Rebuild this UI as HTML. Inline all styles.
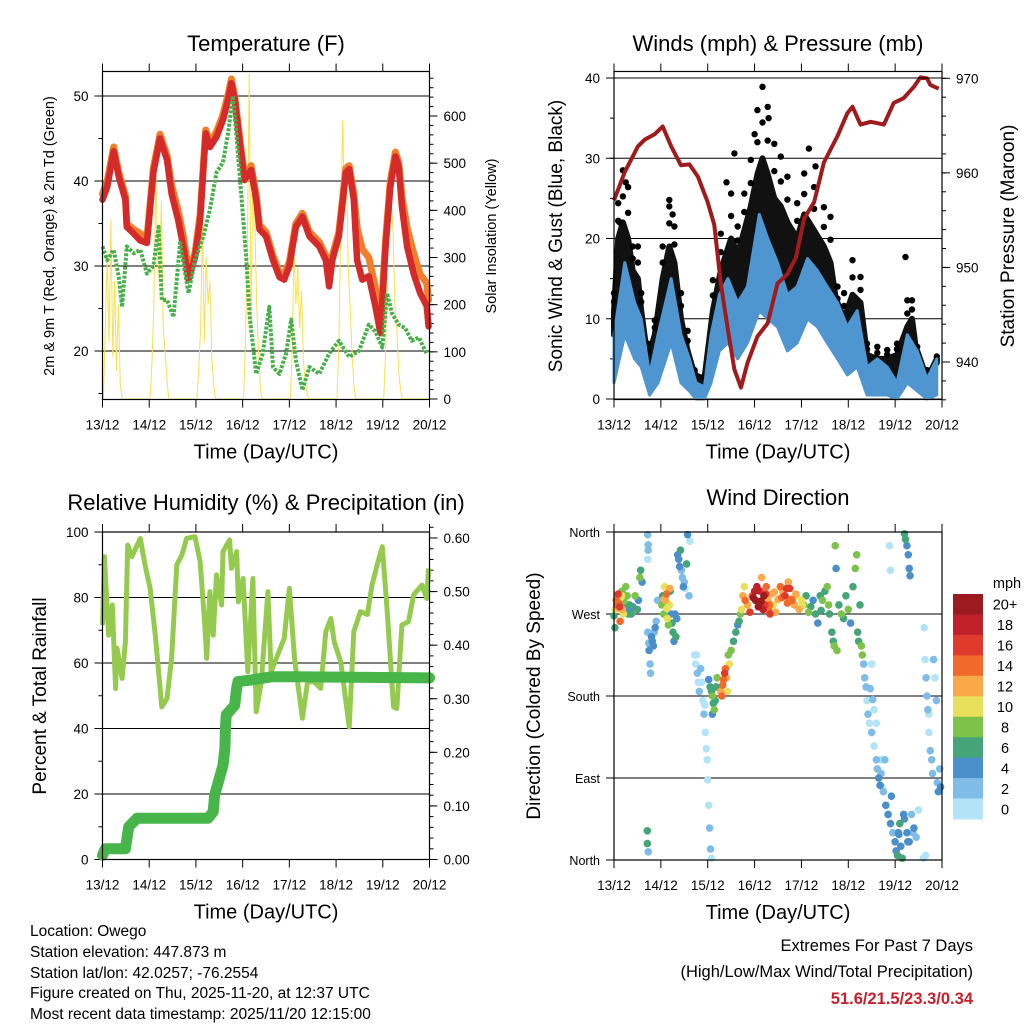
<!DOCTYPE html>
<html><head><meta charset="utf-8">
<style>
html,body{margin:0;padding:0;background:#fff;}
svg{display:block;font-family:"Liberation Sans",Arial,sans-serif;}
</style></head>
<body>
<svg id="chart" width="1024" height="1024" viewBox="0 0 1024 1024" xmlns="http://www.w3.org/2000/svg">
<rect width="1024" height="1024" fill="#fff"/>
<g id="p1"></g>
<g id="p2"></g>
<g id="p3"></g>
<g id="p4"></g>
<g id="texts">
<text x="266" y="51" font-size="22" text-anchor="middle">Temperature (F)</text>
<text x="778" y="51" font-size="22" text-anchor="middle">Winds (mph) &amp; Pressure (mb)</text>
<text x="266" y="510" font-size="22" text-anchor="middle">Relative Humidity (%) &amp; Precipitation (in)</text>
<text x="778" y="505" font-size="22" text-anchor="middle">Wind Direction</text>
<text x="30" y="936" font-size="15.5">Location: Owego</text>
<text x="30" y="957" font-size="15.5">Station elevation: 447.873 m</text>
<text x="30" y="978" font-size="15.5">Station lat/lon: 42.0257; -76.2554</text>
<text x="30" y="998" font-size="15.5">Figure created on Thu, 2025-11-20, at 12:37 UTC</text>
<text x="30" y="1019" font-size="15.5">Most recent data timestamp: 2025/11/20 12:15:00</text>
<text x="973" y="951" font-size="16.5" text-anchor="end">Extremes For Past 7 Days</text>
<text x="973" y="977" font-size="16.5" text-anchor="end">(High/Low/Max Wind/Total Precipitation)</text>
<text x="973" y="1004" font-size="16.5" font-weight="bold" fill="#c8202a" text-anchor="end">51.6/21.5/23.3/0.34</text>
</g>
</svg>
<script>
// ---------- DATA ----------
const dayLabels = ["13/12","14/12","15/12","16/12","17/12","18/12","19/12","20/12"];
const tempT = [0,0.10,0.24,0.35,0.49,0.52,0.67,0.81,0.95,1.09,1.23,1.38,1.48,1.62,1.73,1.84,1.98,2.09,2.21,2.30,2.44,2.58,2.69,2.76,2.83,2.94,3.04,3.18,3.29,3.36,3.50,3.65,3.79,3.89,4.00,4.14,4.28,4.43,4.64,4.78,4.85,4.92,5.06,5.21,5.28,5.38,5.45,5.56,5.70,5.84,5.95,6.06,6.16,6.27,6.34,6.41,6.52,6.66,6.80,6.94,6.98];
const temp2m = [37.8,39.3,43.5,40.5,37.8,34.6,33.8,33,32.7,41,45,42.5,38.5,35.4,32.3,28.4,31,35.4,45.6,44,45.2,47.2,49.6,51.5,49.6,44.5,40.1,41.3,37.8,34.3,33.5,30.7,28.7,28.4,30,34.6,35.8,33.5,32.3,30.7,27.6,30.7,33.5,41,41.4,37.8,30.7,28.4,28.8,25.3,22.1,32.3,39.3,42.9,41.7,37,32.3,29.1,26.8,25.3,22.9];
const temp9m = [38.5,40,44,41,38.3,35,34.3,33.8,33.2,41.5,45.5,43,39.5,36.5,33.5,29.5,31.5,36,46,44.5,45.8,47.8,50.2,52,50,45,40.6,41.8,38.3,34.8,34,31.2,29.2,29,30.5,35,36.2,34,32.8,31.2,28.2,31.2,34,41.5,41.8,38.5,34.5,32,31,27.5,23,33,40,43.4,42.2,38.2,34.5,31.5,29,28,26];
const dewT = [0,0.10,0.24,0.35,0.42,0.52,0.67,0.81,0.95,1.09,1.20,1.27,1.38,1.52,1.66,1.84,1.98,2.16,2.30,2.44,2.58,2.69,2.79,2.87,2.97,3.08,3.15,3.29,3.43,3.57,3.65,3.79,3.93,4.04,4.14,4.28,4.43,4.64,4.85,5.06,5.28,5.49,5.70,5.84,5.99,6.09,6.20,6.34,6.48,6.62,6.77,6.94];
const dewVals = [32.3,30.7,31.9,28.7,25.2,32.3,31.5,31.9,29.1,30,34.6,26,26,24,32.7,26.8,30.7,33.5,36.6,41,42.2,45.7,50,45.2,38.5,30.7,24,17.3,19.7,25.2,18.1,17.3,19.7,23.7,18.9,15.4,18.1,17.3,19.7,21.2,19.3,20,23.1,22.3,20.4,26.8,24.4,23.1,22.7,21.2,21.6,19.7];
const solarT = [0,0.02,0.06,0.10,0.14,0.18,0.22,0.26,0.30,0.34,0.38,0.42,0.5, 1,1.02,1.06,1.10,1.14,1.18,1.22,1.26,1.30,1.34,1.38,1.42,1.5, 2,2.02,2.06,2.10,2.14,2.18,2.22,2.26,2.30,2.34,2.38,2.42,2.5, 3,3.02,3.06,3.10,3.14,3.18,3.22,3.26,3.30,3.34,3.38,3.42,3.5, 4,4.02,4.06,4.10,4.14,4.18,4.22,4.26,4.30,4.34,4.38,4.42,4.5, 5,5.02,5.06,5.10,5.14,5.18,5.22,5.26,5.30,5.34,5.38,5.42,5.5, 6,6.02,6.06,6.10,6.14,6.18,6.22,6.26,6.30,6.34,6.38,6.42,6.5, 7];
const solarVals = [0,0,150,300,120,380,90,250,60,200,30,0,0, 0,0,80,200,480,300,250,420,150,100,40,0,0, 0,0,60,150,380,120,300,200,250,90,30,0,0, 0,0,120,300,690,150,500,380,200,100,20,0,0, 0,0,100,320,200,280,150,230,80,40,10,0,0, 0,0,120,350,590,400,500,280,200,100,30,0,0, 0,0,100,300,480,420,350,200,150,60,20,0,0, 0];
const presT = [0,0.23,0.51,0.65,0.87,1.04,1.22,1.43,1.61,1.79,2.0,2.14,2.28,2.43,2.57,2.71,2.85,3.06,3.28,3.49,3.70,3.88,4.06,4.27,4.48,4.77,4.98,5.09,5.26,5.48,5.76,5.97,6.18,6.40,6.54,6.68,6.75,6.93];
const presVals = [957.1,960.1,962.8,963.5,964.1,964.9,962.8,960.8,960.9,959.6,956.9,954.5,948.3,943.4,939.2,937.3,939.9,942.7,944.1,948.3,949.3,951.0,955.2,956.9,961.1,963.9,966.3,967.0,965.1,965.4,965.1,967.4,967.9,969.1,970.1,970.0,969.3,968.9];
const windT = [0,0.23,0.44,0.58,0.76,0.94,1.22,1.43,1.61,1.75,1.93,2.07,2.25,2.43,2.64,2.85,3.10,3.28,3.49,3.70,3.91,4.13,4.34,4.55,4.77,4.98,5.19,5.40,5.62,5.83,6.04,6.26,6.47,6.68,6.89];
const windVals = [8,17,12,10,3,8,15,8,5,2,1.5,8,13,15,12,14,23,20,17,13,14,17.5,16,14,12,9,11,4,5,4,2,8,6,2.5,5];
const windLow = [2,8,5,4,0.5,2,7,2,1,0,0,2,6,7,5,7,11,10,9,6,7,10,9,7,5,3,4,0.5,0.5,0.5,0,2,1,0,0.5];
const gustT = [0,0.09,0.19,0.30,0.40,0.51,0.58,0.72,0.87,1.04,1.18,1.29,1.43,1.57,1.72,1.93,2.11,2.28,2.50,2.64,2.78,2.92,3.06,3.17,3.28,3.42,3.56,3.70,3.91,4.06,4.27,4.48,4.62,4.77,4.91,5.09,5.26,5.40,5.62,5.83,6.04,6.26,6.36,6.47,6.68,6.89];
const gustVals = [13.2,24.4,28.5,26.4,19,19,13.2,6.9,9.8,19,24.8,21.5,13.2,8.5,3.6,2.8,14.8,20.6,25.6,21.5,25.6,29.8,36,38.9,36.4,31.8,30.2,27.7,24.4,28.1,26.4,23.9,22.7,14,13.2,17.3,15.2,6.9,6.5,6.1,6.9,12.3,12.3,6.5,3.6,5.3];
const gustDense = [11,20,22,20,16,15,11,5,8,15,19,17,10,6,3,2.5,11,16,20,18,21,24,28,30,28,25,24,22,20,23,21,19,17,11,10,13,12,5.5,5,5,5.5,9,10,5,3,4.5];
const gustOutT = [2.57,4.16,6.22,1.18,0.12,3.0,3.3,2.4,4.3,1.25,0.25];
const gustOutVals = [30.6,31.2,17.7,24.0,22.0,33,35,27,29,23,27];
const rhT = [0,0.04,0.13,0.21,0.28,0.31,0.42,0.49,0.54,0.63,0.74,0.81,0.91,1.02,1.13,1.27,1.38,1.48,1.59,1.70,1.80,1.98,2.09,2.19,2.23,2.30,2.37,2.44,2.55,2.58,2.72,2.76,2.87,2.91,3.01,3.11,3.22,3.29,3.40,3.54,3.61,3.72,3.89,4.0,4.11,4.28,4.39,4.53,4.67,4.78,4.89,4.96,5.10,5.28,5.38,5.52,5.67,5.77,5.88,5.99,6.09,6.23,6.30,6.41,6.55,6.66,6.84,6.94,6.98];
const rhVals = [71.6,92.5,68.5,77.7,52.2,64.5,55.3,66.5,96,92.5,96,98,90,82.8,68.5,46.6,49.2,61.4,90,93,98,98.6,91,71.6,61.4,81.8,68.5,86.9,77.7,94,97.6,88.9,94,78.7,85.8,57.3,85.8,45.1,54.3,81.8,57.3,61.4,67.5,82.8,61.4,43.1,54.3,54.3,52.2,69.6,73.6,66.5,60.4,40.5,69.6,75.7,74.8,83.8,90,95.5,76.7,46.6,46.1,71.6,72.6,80.8,83.8,79.7,88.9];
const rainT = [0,0.06,0.49,0.56,0.74,2.26,2.37,2.40,2.48,2.58,2.62,2.63,2.65,2.83,2.87,2.90,3.18,3.61,4.11,7.0];
const rainVals = [0.008,0.02,0.02,0.061,0.077,0.077,0.089,0.12,0.145,0.176,0.207,0.245,0.27,0.288,0.319,0.332,0.335,0.341,0.341,0.339];
const dirT = [0.0,0.02,0.03,0.05,0.07,0.09,0.1,0.12,0.13,0.15,0.17,0.18,0.2,0.22,0.25,0.26,0.28,0.3,0.33,0.35,0.37,0.4,0.45,0.5,0.52,0.55,0.57,0.6,
0.72,0.74,0.75,0.77,0.78,0.8,0.82,0.84,0.86,0.88,0.9,0.93,0.72,0.73,0.73,0.72,0.71,0.71,0.73,
1.02,1.04,1.06,1.08,1.1,1.12,1.14,1.16,1.18,1.2,1.22,1.24,1.26,1.28,1.3,1.32,1.34,
1.36,1.38,1.4,1.42,1.44,1.46,1.48,1.5,1.52,1.55,1.6,1.57,1.62,
1.72,1.74,1.76,1.78,1.8,1.82,1.85,1.87,1.9,1.92,1.94,1.95,1.97,1.99,2.0,2.02,2.04,2.06,2.08,
2.02,2.05,2.08,2.1,2.12,2.14,2.16,2.18,2.2,2.1,
2.28,2.30,2.32,2.34,2.36,2.38,2.40,2.42,2.44,2.46,2.50,2.55,2.60,2.64,2.67,2.70,
2.72,2.75,2.78,2.8,2.85,2.9,2.95,3.0,3.02,3.05,3.08,3.1,3.12,3.15,3.18,3.2,3.22,3.25,3.28,3.3,3.33,3.36,3.4,3.45,3.5,3.55,3.6,3.65,3.7,3.72,3.75,3.8,3.85,3.9,3.95,4.0,4.05,4.1,4.15,4.2,4.25,4.3,4.35,4.4,4.45,4.5,4.55,4.6,4.65,4.68,4.7,4.72,4.74,4.76,
4.8,4.85,4.9,4.95,5.0,5.05,5.1,5.15,5.18,5.2,5.22,5.25,5.28,5.3,
5.33,5.35,5.38,5.4,5.42,5.45,5.5,5.55,5.6,5.62,5.65,5.68,5.7,5.72,5.75,5.8,5.85,5.9,5.95,6.0,6.02,6.05,6.08,6.1,6.12,6.15,6.2,6.25,6.3,6.35,6.4,6.45,6.5,5.7,5.5,5.55,5.6,
6.62,6.64,6.66,6.68,6.7,6.72,6.75,6.78,6.8,6.85,6.88,6.9,6.92,6.95,6.97,6.6,6.65,
6.2,6.22,6.25,6.28,6.3,6.32,5.9,5.88,
0.06,0.11,0.16,0.21,1.07,1.13,1.19,2.97,3.07,3.14,3.24,3.32,3.42,3.58,3.68,3.78,3.88,4.02,4.42,4.58,5.47,5.52,5.78,5.92,6.07,6.18,6.27,6.38,6.72,6.82];
const dirDeg = [268,255,275,285,290,292,282,278,262,288,295,275,270,282,300,275,290,270,280,272,270,278,290,275,285,310,318,305,
250,238,230,215,205,245,240,235,250,255,262,285,357,346,340,330,32,18,9,
280,290,270,300,285,292,265,258,280,295,270,260,250,240,270,245,265,
335,330,322,340,318,310,300,305,298,325,290,357,350,
225,215,225,205,195,185,210,195,175,160,170,140,122,110,88,60,35,12,2,
198,190,185,180,172,165,175,190,200,160,
185,180,192,198,205,210,200,185,225,215,230,240,250,258,262,270,
275,290,300,285,280,272,290,295,285,300,278,282,295,310,275,290,280,300,285,275,270,292,280,272,286,300,295,290,282,305,298,285,280,290,275,285,280,290,272,278,285,270,260,290,285,295,300,270,250,240,235,345,320,230,
280,270,265,290,275,260,300,320,335,250,240,280,235,225,
215,200,190,175,160,150,140,125,110,100,90,82,95,80,75,60,50,40,30,20,10,5,28,40,15,2,45,30,20,50,35,25,55,110,215,165,150,
255,220,200,180,165,140,120,110,95,200,175,85,75,100,80,2,5,
358,352,345,335,320,312,318,345,
280,276,290,284,286,276,298,288,296,284,292,280,294,288,298,286,292,280,274,280,188,176,110,70,30,50,20,30,160,220];
const dirSpd = [6,6,10,14,12,16,14,16,14,10,8,12,10,6,8,4,8,6,6,4,6,4,8,6,4,8,6,4,
2,2,4,2,2,4,4,4,2,4,2,2,2,2,2,0,6,6,2,
8,6,8,10,12,14,10,8,10,6,4,6,6,4,4,6,4,
4,4,4,6,2,2,4,2,0,6,2,4,0,
0,0,0,2,0,2,2,0,0,2,0,0,0,0,0,0,2,2,0,
4,6,6,8,6,8,6,6,8,4,
12,14,14,14,16,14,12,10,8,10,8,6,6,4,6,8,
10,12,10,14,12,16,14,18,20,18,20,20,16,12,18,20,16,14,12,14,16,12,10,12,12,14,12,16,14,12,16,14,12,10,12,10,8,6,8,6,4,6,4,6,8,6,8,6,6,6,8,8,4,8,
6,8,6,6,8,4,6,8,8,6,6,6,8,8,
2,2,2,0,2,0,2,0,2,2,4,4,2,0,2,4,4,4,2,4,4,6,4,6,4,6,4,4,4,2,4,2,0,0,0,0,0,
0,0,2,2,2,0,2,2,2,0,2,2,4,2,4,0,0,
6,6,4,4,4,4,0,0,
14,12,10,8,12,10,12,20,18,20,16,14,12,14,16,14,12,10,6,8,2,2,2,4,4,4,4,2,0,2];
const speedColors = ["#b3e3f7","#7fbde8","#4a8fc9","#45a578","#7dc24a","#e8df5a","#f9a94a","#f26a2b","#df3a2c","#c0202a","#9b1b1e"];
const speedLabels = ["0","2","4","6","8","10","12","14","16","18","20+"];

// ---------- HELPERS ----------
const NS="http://www.w3.org/2000/svg";
function mk(parent,tag,attrs){const e=document.createElementNS(NS,tag);for(const k in attrs)e.setAttribute(k,attrs[k]);parent.appendChild(e);return e;}
function txt(parent,x,y,s,size,anchor){const t=mk(parent,"text",{x:x,y:y,"font-size":size,"text-anchor":anchor||"middle"});t.textContent=s;return t;}
function lin(d0,d1,r0,r1){return v=>r0+(v-d0)*(r1-r0)/(d1-d0);}
function pts(ts,vs,fx,fy){const a=[];const n=Math.min(ts.length,vs.length);for(let i=0;i<n;i++)a.push(fx(ts[i]).toFixed(1)+","+fy(vs[i]).toFixed(1));return a;}
function pathOf(ts,vs,fx,fy){return "M"+pts(ts,vs,fx,fy).join("L");}

function frame(g,box,name){
  const b=mk(g,"rect",{x:box.x0,y:box.y0,width:box.x1-box.x0,height:box.y1-box.y0,fill:"none",stroke:"#000","stroke-width":1.2});
  
  
}
function xAxis(g,box,fx,name){
  const ax=mk(g,"g",{});
  
  
  for(let i=0;i<dayLabels.length;i++){
    const x=fx(i);
    mk(ax,"line",{x1:x,x2:x,y1:box.y1,y2:box.y1+8,stroke:"#000","stroke-width":1});
    mk(ax,"line",{x1:x,x2:x,y1:box.y0,y2:box.y0-8,stroke:"#000","stroke-width":1});
    const t=txt(ax,x,box.y1+30,dayLabels[i],13.5);
    
    
  }
  const tt=txt(ax,(box.x0+box.x1)/2,box.y1+59,"Time (Day/UTC)",20);
  
  
}
function yAxis(g,box,fy,major,minor,fmt,side,grid,fs){
  const ax=mk(g,"g",{});
  
  
  const x=side==="left"?box.x0:box.x1, s=side==="left"?-1:1;
  minor.forEach(v=>{mk(ax,"line",{x1:x,x2:x+s*4,y1:fy(v),y2:fy(v),stroke:"#000","stroke-width":1});});
  major.forEach(v=>{
    const y=fy(v);
    mk(ax,"line",{x1:x,x2:x+s*8,y1:y,y2:y,stroke:"#000","stroke-width":1});
    if(grid) mk(ax,"line",{x1:box.x0,x2:box.x1,y1:y,y2:y,stroke:"#000","stroke-width":1});
    const t=txt(ax,x+s*14,y+5,fmt(v),fs||13.5,side==="left"?"end":"start");
    
    
  });
}
function vTitle(g,x,y,s,size,name){
  const t=mk(g,"text",{x:0,y:0,"font-size":size,"text-anchor":"middle",transform:`translate(${x},${y}) rotate(-90)`});
  t.textContent=s;
  
  
}
function range(a,b,s){const r=[];for(let v=a;v<=b+1e-9;v+=s)r.push(+v.toFixed(4));return r;}

// ---------- PANEL 1 ----------
(function(){
  const g=document.getElementById("p1");
  const box={x0:102.5,x1:429.5,y0:71.5,y1:399.5};
  const fx=lin(0,7,box.x0,box.x1), fy=lin(50,20,96,351), fs=lin(0,600,399,116);
  yAxis(g,box,fy,[20,30,40,50],range(15,50,5),v=>String(v),"left",true);
  yAxis(g,box,fs,range(0,600,100),range(0,680,20),v=>String(v),"right",false);
  const sol=mk(g,"path",{d:pathOf(solarT,solarVals,fx,fs),fill:"none",stroke:"#f9e04b","stroke-width":1});
  
  
  const o=mk(g,"path",{d:pathOf(tempT,temp9m,fx,fy),fill:"none",stroke:"#f07f2c","stroke-width":7,"stroke-linejoin":"round","stroke-linecap":"round"});
  
  
  const r=mk(g,"path",{d:pathOf(tempT,temp2m,fx,fy),fill:"none",stroke:"#d42a2a","stroke-width":6.5,"stroke-linejoin":"round","stroke-linecap":"round"});
  
  
  const gr=mk(g,"path",{d:pathOf(dewT,dewVals,fx,fy),fill:"none",stroke:"#48b04a","stroke-width":4,"stroke-dasharray":"3 1.5","stroke-linejoin":"round"});
  
  
  frame(g,box,"temperature");
  xAxis(g,box,fx,"temperature");
  vTitle(g,54,236,"2m & 9m T (Red, Orange) & 2m Td (Green)",14.5,"temperature-y-axis-title");
  vTitle(g,496,236,"Solar Insolation (Yellow)",14.5,"solar-y-axis-title");
})();

// ---------- PANEL 2 ----------
(function(){
  const g=document.getElementById("p2");
  const box={x0:614,x1:942,y0:71.5,y1:399.5};
  const fx=lin(0,7,box.x0,box.x1), fy=lin(0,40,399,78), fp=lin(970,940,78.3,362);
  yAxis(g,box,fy,[0,10,20,30,40],range(0,40,5),v=>String(v),"left",true);
  yAxis(g,box,fp,[940,950,960,970],range(936,970,2),v=>String(v),"right",false);
  // dense gust cloud between wind band and dense gust top
  const top=pts(gustT,gustDense,fx,fy);
  const bot=pts(windT,windVals,fx,fy).reverse();
  const cloud=mk(g,"path",{d:"M"+top.join("L")+"L"+bot.join("L")+"Z",fill:"#111",stroke:"#111","stroke-width":6,"stroke-linejoin":"round"});
  
  
  for(let i=0;i<Math.min(gustT.length,gustVals.length);i++){
    const c=mk(g,"circle",{cx:fx(gustT[i]).toFixed(1),cy:fy(gustVals[i]).toFixed(1),r:3.2,fill:"#000"});
    
    
    const c2=mk(g,"circle",{cx:fx(gustT[i]).toFixed(1),cy:fy((gustVals[i]+gustDense[i])/2).toFixed(1),r:3.2,fill:"#000"});
    
    
  }
  for(let i=0;i<gustOutT.length;i++){
    const c=mk(g,"circle",{cx:fx(gustOutT[i]).toFixed(1),cy:fy(gustOutVals[i]).toFixed(1),r:3.2,fill:"#000"});
    
    
  }
  const hi=pts(windT,windVals,fx,fy), lo=pts(windT,windLow,fx,fy).reverse();
  const w=mk(g,"path",{d:"M"+hi.join("L")+"L"+lo.join("L")+"Z",fill:"#4f96d0",stroke:"#4f96d0","stroke-width":3,"stroke-linejoin":"round"});
  
  
  const p=mk(g,"path",{d:pathOf(presT,presVals,fx,fp),fill:"none",stroke:"#a01b1b","stroke-width":4,"stroke-linejoin":"round"});
  
  
  mk(g,"line",{x1:box.x0,x2:box.x1,y1:78,y2:78,stroke:"#000","stroke-width":1});
  frame(g,box,"winds");
  xAxis(g,box,fx,"winds");
  vTitle(g,562,236,"Sonic Wind & Gust (Blue, Black)",19,"wind-y-axis-title");
  vTitle(g,1014,236,"Station Pressure (Maroon)",19,"pressure-y-axis-title");
})();

// ---------- PANEL 3 ----------
(function(){
  const g=document.getElementById("p3");
  const box={x0:102.5,x1:429.5,y0:532,y1:859.5};
  const fx=lin(0,7,box.x0,box.x1), fy=lin(0,100,859.5,532), fr=lin(0,0.6,859.5,538);
  yAxis(g,box,fy,[0,20,40,60,80,100],range(0,100,10),v=>String(v),"left",true);
  yAxis(g,box,fr,range(0,0.6,0.1),range(0,0.62,0.02),v=>v.toFixed(2),"right",false);
  const rh=mk(g,"path",{d:pathOf(rhT,rhVals,fx,fy),fill:"none",stroke:"#94cb4f","stroke-width":5,"stroke-linejoin":"round"});
  
  
  const rn=mk(g,"path",{d:pathOf(rainT,rainVals,fx,fr),fill:"none",stroke:"#47b549","stroke-width":11,"stroke-linejoin":"round","stroke-linecap":"round"});
  
  
  frame(g,box,"humidity");
  xAxis(g,box,fx,"humidity");
  vTitle(g,46,696,"Percent & Total Rainfall",19,"humidity-y-axis-title");
})();

// ---------- PANEL 4 ----------
(function(){
  const g=document.getElementById("p4");
  const box={x0:614,x1:942,y0:532,y1:860};
  const fx=lin(0,7,box.x0,box.x1), fy=lin(0,360,860,532);
  const names={0:"North",90:"East",180:"South",270:"West",360:"North"};
  yAxis(g,box,fy,[0,90,180,270,360],[],v=>names[v],"left",true,12.5);
  const pg=mk(g,"g",{});
  
  
  const n=Math.min(dirT.length,dirDeg.length,dirSpd.length);
  const order=[...Array(n).keys()].sort((a,b)=>dirSpd[a]-dirSpd[b]);
  order.forEach(i=>{
    const idx=Math.min(10,Math.floor(dirSpd[i]/2));
    const c=mk(pg,"circle",{cx:fx(dirT[i]).toFixed(1),cy:fy(dirDeg[i]).toFixed(1),r:3.8,fill:speedColors[idx]});
    
    
  });
  frame(g,box,"direction");
  xAxis(g,box,fx,"direction");
  vTitle(g,540,696,"Direction (Colored By Speed)",19,"direction-y-axis-title");
  const cb=mk(g,"g",{});
  
  
  const h=225/11;
  for(let k=0;k<11;k++){
    const j=10-k, y=594+k*h;
    const r=mk(cb,"rect",{x:953,y:y.toFixed(1),width:30,height:(h+0.5).toFixed(1),fill:speedColors[j]});
    
    
    const t=txt(cb,1005,y+h/2+5.5,speedLabels[j],14.5);
    
    
  }
  const u=txt(cb,1007,588,"mph",14.5);
  
  
})();
</script>
</body></html>
